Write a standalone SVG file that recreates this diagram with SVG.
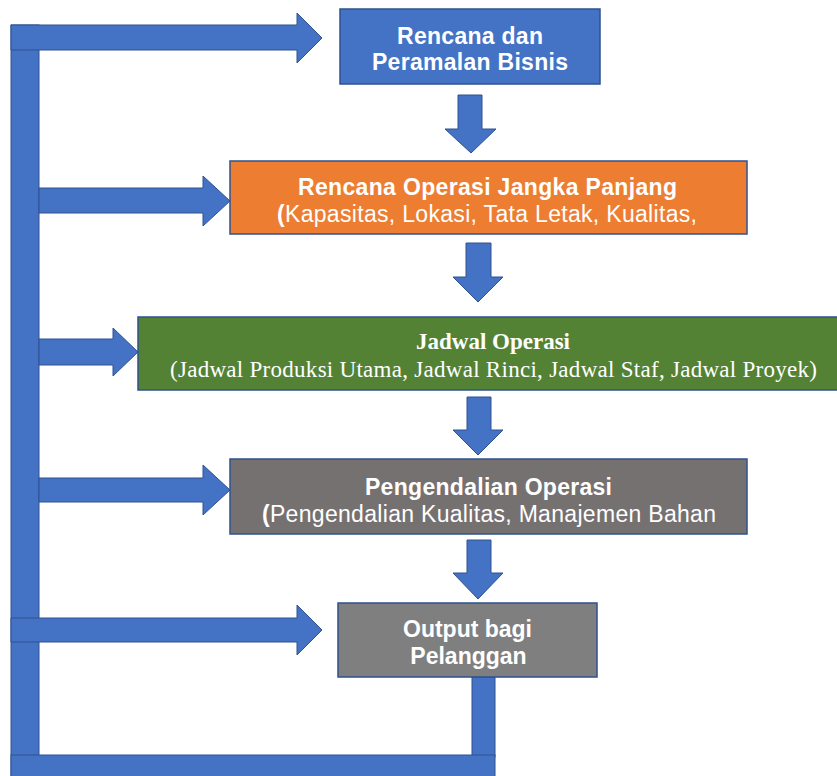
<svg xmlns="http://www.w3.org/2000/svg" width="837" height="776" viewBox="0 0 837 776">
<style>
.box{stroke:#2F528F;stroke-width:1.5}
.arr{fill:#4472C4;stroke:#2F528F;stroke-width:1}
.sans{font-family:"Liberation Sans",Arial,sans-serif;fill:#fff;font-size:23px}
.serif{font-family:"Liberation Serif","Times New Roman",serif;fill:#fff;font-size:23px}
.b{font-weight:bold}
</style>
<rect width="837" height="776" fill="#fff"/>
<g id="connectors">
<rect class="arr" x="11" y="25" width="28" height="760"/>
<polygon class="arr" points="11,25 297,25 297,13 322,38 297,63 297,50 11,50"/>
<polygon class="arr" points="39,188 203,188 203,176 230,201 203,226 203,213 39,213"/>
<polygon class="arr" points="39,339 113,339 113,328 138,352 113,376 113,365 39,365"/>
<polygon class="arr" points="39,478 203,478 203,465 230,490 203,515 203,502 39,502"/>
<polygon class="arr" points="11,618 297,618 297,605 322,630 297,655 297,642 11,642"/>
<polygon class="arr" points="458,95 482,95 482,129 496,129 471,153 445,129 458,129"/>
<polygon class="arr" points="466,243 491,243 491,277 503,277 478,302 453,277 466,277"/>
<polygon class="arr" points="467,397 491,397 491,430 503,430 478,455 453,430 467,430"/>
<polygon class="arr" points="467,540 491,540 491,573 503,573 478,599 453,573 467,573"/>
<rect class="arr" x="472" y="677" width="23" height="80"/>
<rect class="arr" x="11" y="755" width="484" height="30"/>
</g>
<g id="node-rencana">
<rect class="box" x="340" y="9" width="260" height="75" fill="#4472C4"/>
<text class="sans b" x="470" y="44" text-anchor="middle" textLength="146">Rencana dan</text>
<text class="sans b" x="470" y="70" text-anchor="middle" textLength="196">Peramalan Bisnis</text>
</g>
<g id="node-jangka-panjang">
<rect class="box" x="230" y="161" width="517" height="73" fill="#ED7D31"/>
<text class="sans b" x="487.5" y="195" text-anchor="middle" textLength="379">Rencana Operasi Jangka Panjang</text>
<text class="sans" x="487" y="222" text-anchor="middle" textLength="420"><tspan font-weight="bold">(</tspan>Kapasitas, Lokasi, Tata Letak, Kualitas,</text>
</g>
<g id="node-jadwal">
<rect class="box" x="138" y="317" width="720" height="73" fill="#548235"/>
<text class="serif b" x="493" y="349" text-anchor="middle">Jadwal Operasi</text>
<text class="serif" x="493.5" y="377" text-anchor="middle" textLength="647">(Jadwal Produksi Utama, Jadwal Rinci, Jadwal Staf, Jadwal Proyek)</text>
</g>
<g id="node-pengendalian">
<rect class="box" x="230" y="459" width="517" height="75" fill="#767171"/>
<text class="sans b" x="488.5" y="495" text-anchor="middle" textLength="247">Pengendalian Operasi</text>
<text class="sans" x="489" y="522" text-anchor="middle" textLength="454"><tspan font-weight="bold">(</tspan>Pengendalian Kualitas, Manajemen Bahan</text>
</g>
<g id="node-output">
<rect class="box" x="338" y="603" width="259" height="74" fill="#7F7F7F"/>
<text class="sans b" x="467.5" y="637" text-anchor="middle" textLength="129">Output bagi</text>
<text class="sans b" x="468.5" y="664" text-anchor="middle">Pelanggan</text>
</g>
</svg>
